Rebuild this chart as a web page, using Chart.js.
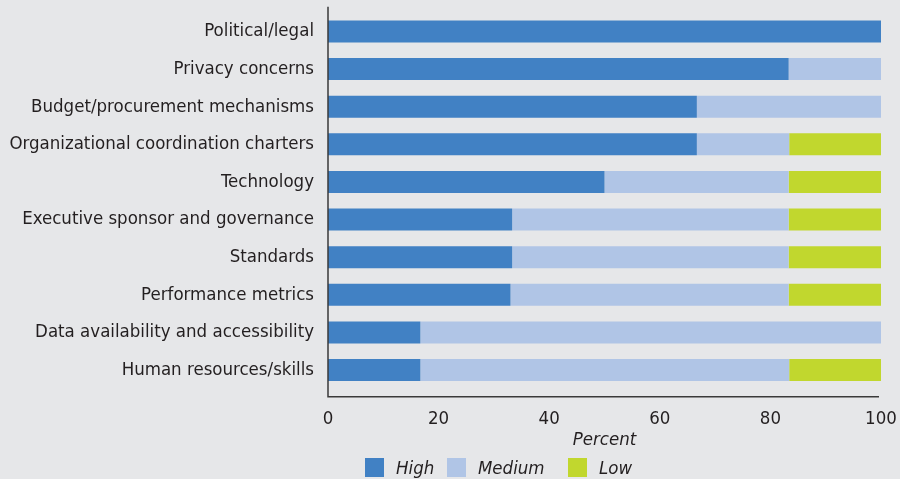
<!DOCTYPE html>
<html>
<head>
<meta charset="utf-8">
<script src="https://cdn.jsdelivr.net/npm/chart.js@4.4.1/dist/chart.umd.min.js"></script>
<style>
  html, body { margin: 0; padding: 0; background: #e6e7e9; }
  #wrap { position: relative; width: 900px; height: 479px; }
  #legend { position: absolute; left: 365px; top: 457px; display: flex; font-family: "Liberation Sans Narrow", "DejaVu Sans Condensed", sans-serif; font-style: italic; font-size: 18.5px; color: #231f20; }
  #legend .item { display: flex; align-items: center; }
  #legend .box { width: 19px; height: 19px; margin-right: 12px; }
</style>
</head>
<body>
<div id="wrap">
  <canvas id="chart" width="900" height="479"></canvas>
  <div id="legend"></div>
</div>
<script>
var categories = [
    "Political/legal",
    "Privacy concerns",
    "Budget/procurement mechanisms",
    "Organizational coordination charters",
    "Technology",
    "Executive sponsor and governance",
    "Standards",
    "Performance metrics",
    "Data availability and accessibility",
    "Human resources/skills"
];
var highValues = [100, 83.3, 66.7, 66.7, 50, 33.3, 33.3, 33.0, 16.7, 16.7];
var mediumValues = [0, 16.7, 33.3, 16.7, 33.3, 50, 50, 50.3, 83.3, 66.7];
var lowValues = [0, 0, 0, 16.7, 16.7, 16.7, 16.7, 16.7, 0, 16.7];
var xTicks = [0, 20, 40, 60, 80, 100];

var fontFamily = '"Liberation Sans Narrow", "DejaVu Sans Condensed", sans-serif';
var textColor = "#231f20";

// axis lines stick out a bit past the bars, so draw them by hand
var axisLines = {
    id: "axisLines",
    afterDraw: function (chart) {
        var ctx = chart.ctx;
        var area = chart.chartArea;
        ctx.save();
        ctx.strokeStyle = "#3a3a3a";
        ctx.lineWidth = 1.5;
        ctx.beginPath();
        ctx.moveTo(area.left, area.top - 6);
        ctx.lineTo(area.left, area.bottom + 8);
        ctx.lineTo(area.right - 2, area.bottom + 8);
        ctx.stroke();
        ctx.restore();
    }
};

var datasets = [
    { label: "High", data: highValues, backgroundColor: "#4181c4" },
    { label: "Medium", data: mediumValues, backgroundColor: "#b0c5e6" },
    { label: "Low", data: lowValues, backgroundColor: "#c1d72e" }
];

var chart = new Chart("chart", {
    type: "bar",
    data: { labels: categories, datasets: datasets },
    options: {
        indexAxis: "y",
        responsive: false,
        animation: false,
        barPercentage: 0.585,
        categoryPercentage: 1,
        layout: { padding: { left: 0, right: 19, top: 12.7, bottom: 28.2 } },
        plugins: { legend: { display: false }, tooltip: { enabled: false } },
        scales: {
            x: {
                stacked: true,
                min: 0,
                max: 100,
                afterBuildTicks: function (scale) {
                    scale.ticks = xTicks.map(function (v) { return { value: v }; });
                },
                afterFit: function (scale) {
                    scale.height = 62;
                    scale.paddingLeft = 0;
                    scale.paddingRight = 0;
                },
                grid: { display: false, drawTicks: false },
                border: { display: false },
                ticks: { padding: 19, color: textColor, font: { family: fontFamily, size: 18.5 } },
                title: { display: true, text: "Percent", color: textColor, padding: 0, font: { family: fontFamily, size: 18.5, style: "italic" } }
            },
            y: {
                stacked: true,
                afterFit: function (scale) {
                    scale.width = 328;
                    scale.paddingTop = 0;
                    scale.paddingBottom = 0;
                },
                grid: { display: false, drawTicks: false },
                border: { display: false },
                ticks: { padding: 14, color: textColor, font: { family: fontFamily, size: 18.5 } }
            }
        }
    },
    plugins: [axisLines]
});

var legendWidths = [82, 121, null];
var legendEl = document.getElementById("legend");
datasets.forEach(function (ds, i) {
    var item = document.createElement("div");
    item.className = "item";
    if (legendWidths[i]) item.style.width = legendWidths[i] + "px";
    var box = document.createElement("span");
    box.className = "box";
    box.style.background = ds.backgroundColor;
    var label = document.createElement("span");
    label.textContent = ds.label;
    item.appendChild(box);
    item.appendChild(label);
    legendEl.appendChild(item);
});
</script>
</body>
</html>
